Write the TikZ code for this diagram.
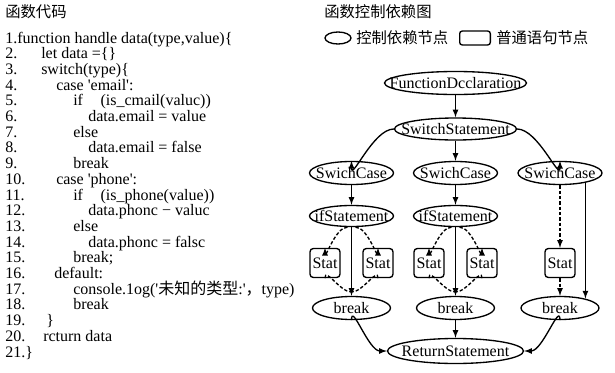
\documentclass[tikz,border=0pt]{standalone}
\usepackage{fontspec}
\setmainfont{Liberation Serif}
\newfontfamily\cjk{Noto Sans CJK SC}
\usetikzlibrary{shapes.geometric}

\newcommand{\sq}{\textquotesingle}
\newcommand{\inbox}[1]{\makebox[0pt]{#1}}

\tikzset{
  code/.style={anchor=base west, inner sep=0.75pt, font=\fontsize{12}{14}\selectfont},
  title/.style={anchor=west, inner sep=0.75pt, font=\cjk\fontsize{11.5}{13}\selectfont},
  ctrl/.style={ellipse, draw, line width=1pt, inner sep=0pt, font=\fontsize{12}{14}\selectfont},
  stat/.style={rectangle, draw, rounded corners=2.5pt, line width=1pt, inner sep=0pt,
    minimum width=22.5pt, minimum height=21.75pt, font=\fontsize{12}{14}\selectfont},
  dep/.style={-latex, line width=1pt},
  seq/.style={-latex, line width=1pt, dash pattern=on 2.5pt off 1.5pt},
}

\begin{document}
\begin{tikzpicture}[x=0.75pt,y=0.75pt,yscale=-1,xscale=1]
    \useasboundingbox (0,0) rectangle (615,372);

    % Titles
    \node[title] (tcode) at (4,12) {函数代码};
    \node[title] (tgraph) at (323,12) {函数控制依赖图};

    % Legend
    \node[ellipse, draw, line width=1pt, minimum width=19.5pt, minimum height=9pt, inner sep=0pt] (lgE) at (338,38) {};
    \node[title] (lgEt) at (355,38) {控制依赖节点};
    \node[rectangle, draw, rounded corners=2pt, line width=1pt, minimum width=23pt, minimum height=10.5pt, inner sep=0pt] (lgR) at (475,38) {};
    \node[title] (lgRt) at (495,38) {普通语句节点};

    % Line numbers
    \foreach \i in {2,...,20}
      \node[code] (n\i) at (4,{43+15.7*(\i-1)}) {\i.};

    % Code lines
    \node[code] (c1) at (4,43) {1.function handle data(type,value)\{};
    \node[code] (c2) at (40,58.7) {let data =\{\}};
    \node[code] (c3) at (40,74.4) {switch(type)\{};
    \node[code] (c4) at (55,90.1) {case \sq email\sq:};
    \node[code] (c5) at (72,105.8) {if\hspace{1.1em}(is\_cmail(valuc))};
    \node[code] (c6) at (87,121.5) {data.email = value};
    \node[code] (c7) at (72,137.2) {else};
    \node[code] (c8) at (87,152.9) {data.email = false};
    \node[code] (c9) at (72,168.6) {break};
    \node[code] (c10) at (55,184.3) {case \sq phone\sq:};
    \node[code] (c11) at (72,200) {if\hspace{1.1em}(is\_phone(value))};
    \node[code] (c12) at (87,215.7) {data.phonc − valuc};
    \node[code] (c13) at (72,231.4) {else};
    \node[code] (c14) at (87,247.1) {data.phonc = falsc};
    \node[code] (c15) at (72,262.8) {break;};
    \node[code] (c16) at (53,278.5) {default:};
    \node[code] (c17) at (72,294.2) {console.1og(\sq{\cjk 未知的类型}:\sq{\cjk ，}type)};
    \node[code] (c18) at (72,309.9) {break};
    \node[code] (c19) at (45,325.6) {\}};
    \node[code] (c20) at (42,341.3) {rcturn data};
    \node[code] (c21) at (4,357) {21.\}};

    % Control nodes
    \node[ctrl, minimum width=106.5pt, minimum height=17.25pt] (fd) at (455.5,83) {\inbox{FunctionDcclaration}};
    \node[ctrl, minimum width=91.5pt, minimum height=16.5pt] (ss) at (455.5,129) {\inbox{SwitchStatement}};
    \node[ctrl, minimum width=63pt, minimum height=17.25pt] (scL) at (351.5,173) {\inbox{SwichCase}};
    \node[ctrl, minimum width=63pt, minimum height=17.25pt] (scM) at (455.5,173) {\inbox{SwichCase}};
    \node[ctrl, minimum width=63pt, minimum height=17.25pt] (scR) at (560,173) {\inbox{SwichCase}};
    \node[ctrl, minimum width=63pt, minimum height=15.75pt] (ifL) at (351.5,216) {\inbox{ifStatement}};
    \node[ctrl, minimum width=63pt, minimum height=15.75pt] (ifM) at (455.5,216) {\inbox{ifStatement}};
    \node[ctrl, minimum width=58.5pt, minimum height=17.25pt] (bkL) at (351.5,308) {\inbox{break}};
    \node[ctrl, minimum width=58.5pt, minimum height=17.25pt] (bkM) at (455.5,308) {\inbox{break}};
    \node[ctrl, minimum width=58.5pt, minimum height=17.25pt] (bkR) at (560,308) {\inbox{break}};
    \node[ctrl, minimum width=102pt, minimum height=18.75pt] (rt) at (455.5,351) {\inbox{ReturnStatement}};

    % Statement nodes
    \node[stat] (sLa) at (325,263) {Stat};
    \node[stat] (sLb) at (378,263) {Stat};
    \node[stat] (sMa) at (429,263) {Stat};
    \node[stat] (sMb) at (482,263) {Stat};
    \node[stat] (sR) at (560,263) {Stat};

    % Junctions above break
    \coordinate (jL) at (351.5,292);
    \coordinate (jM) at (455.5,292);

    % Edges
    \draw[dep] (fd) -- (ss);
    \draw[dep] (ss.west) to[out=180,in=90] (scL.north);
    \draw[dep] (ss) -- (scM);
    \draw[dep] (ss.east) to[out=0,in=90] (scR.north);
    \draw[dep] (scL) -- (ifL);
    \draw[dep] (scM) -- (ifM);

    \draw[seq] (ifL.250) to[out=180,in=90] (sLa.north);
    \draw[seq] (ifL.290) to[out=0,in=90] (sLb.north);
    \draw[seq] (ifM.250) to[out=180,in=90] (sMa.north);
    \draw[seq] (ifM.290) to[out=0,in=90] (sMb.north);
    \draw[dep] (ifL) -- (bkL);
    \draw[dep] (ifM) -- (bkM);
    \draw[seq,-] (sLa.south) to[out=-90,in=180] (jL);
    \draw[seq,-] (sLb.south) to[out=-90,in=0] (jL);
    \draw[seq,-] (sMa.south) to[out=-90,in=180] (jM);
    \draw[seq,-] (sMb.south) to[out=-90,in=0] (jM);

    \draw[seq] (scR) -- (sR);
    \draw[seq] (sR) -- (bkR);
    \draw[dep] (scR.-21) -- (scR.-21 |- bkR.21);

    \draw[dep] (bkL.south) to[out=-90,in=180] (rt.west);
    \draw[dep] (bkM) -- (rt);
    \draw[dep] (bkR.south) to[out=-90,in=0] (rt.east);
\end{tikzpicture}
\end{document}
